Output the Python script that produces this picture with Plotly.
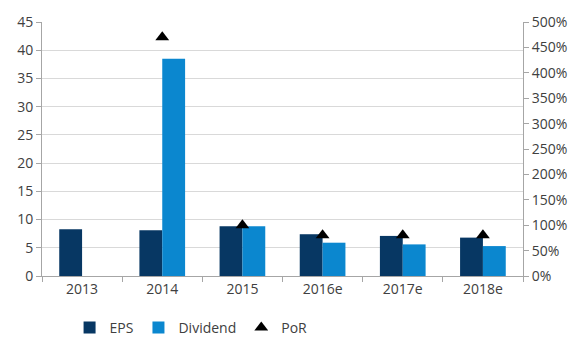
import plotly.graph_objects as go

# Years and per-share figures
years = ["2013", "2014", "2015", "2016e", "2017e", "2018e"]
eps = [8.3, 8.1, 8.8, 7.4, 7.1, 6.8]
dividend = [None, 38.5, 8.8, 5.9, 5.6, 5.3]
payout_ratio = [None, 470, 100, 80, 80, 80]  # percent

eps_color = "#073763"
div_color = "#0B87CF"
axis_color = "#A6A6A6"
grid_color = "#D9D9D9"
text_color = "#404040"
font_family = "Open Sans, sans-serif"

fig = go.Figure()
fig.add_trace(go.Bar(x=years, y=eps, name="EPS", marker_color=eps_color,
                     marker_line_width=0))
fig.add_trace(go.Bar(x=years, y=dividend, name="Dividend", marker_color=div_color,
                     marker_line_width=0))
fig.add_trace(go.Scatter(x=years, y=payout_ratio, name="PoR", yaxis="y2",
                         mode="markers",
                         marker=dict(symbol="triangle-up", size=12, color="black")))

fig.update_layout(
    width=579, height=338,
    margin=dict(l=42, r=52, t=21, b=62),
    paper_bgcolor="white", plot_bgcolor="white",
    font=dict(family=font_family, size=14, color=text_color),
    barmode="group", bargap=0.43, bargroupgap=0,
    showlegend=True,
    legend=dict(orientation="h", xref="container", x=0.33, xanchor="center",
                yref="container", y=0.03, yanchor="middle",
                font=dict(size=14, color=text_color), itemwidth=30,
                traceorder="normal", bgcolor="rgba(0,0,0,0)"),
    xaxis=dict(type="category", showline=True, linecolor=axis_color, linewidth=1,
               ticks="outside", tickson="boundaries", ticklen=5,
               tickcolor=axis_color, showgrid=False),
    yaxis=dict(range=[0, 45], dtick=5, showline=True, linecolor=axis_color,
               ticks="outside", ticklen=5, tickcolor=axis_color,
               gridcolor=grid_color, zeroline=False),
    yaxis2=dict(range=[0, 500], dtick=50, overlaying="y", side="right",
                ticksuffix="%", showline=True, linecolor=axis_color,
                ticks="outside", ticklen=5, tickcolor=axis_color,
                showgrid=False, zeroline=False),
)

fig.write_html("out.html")
